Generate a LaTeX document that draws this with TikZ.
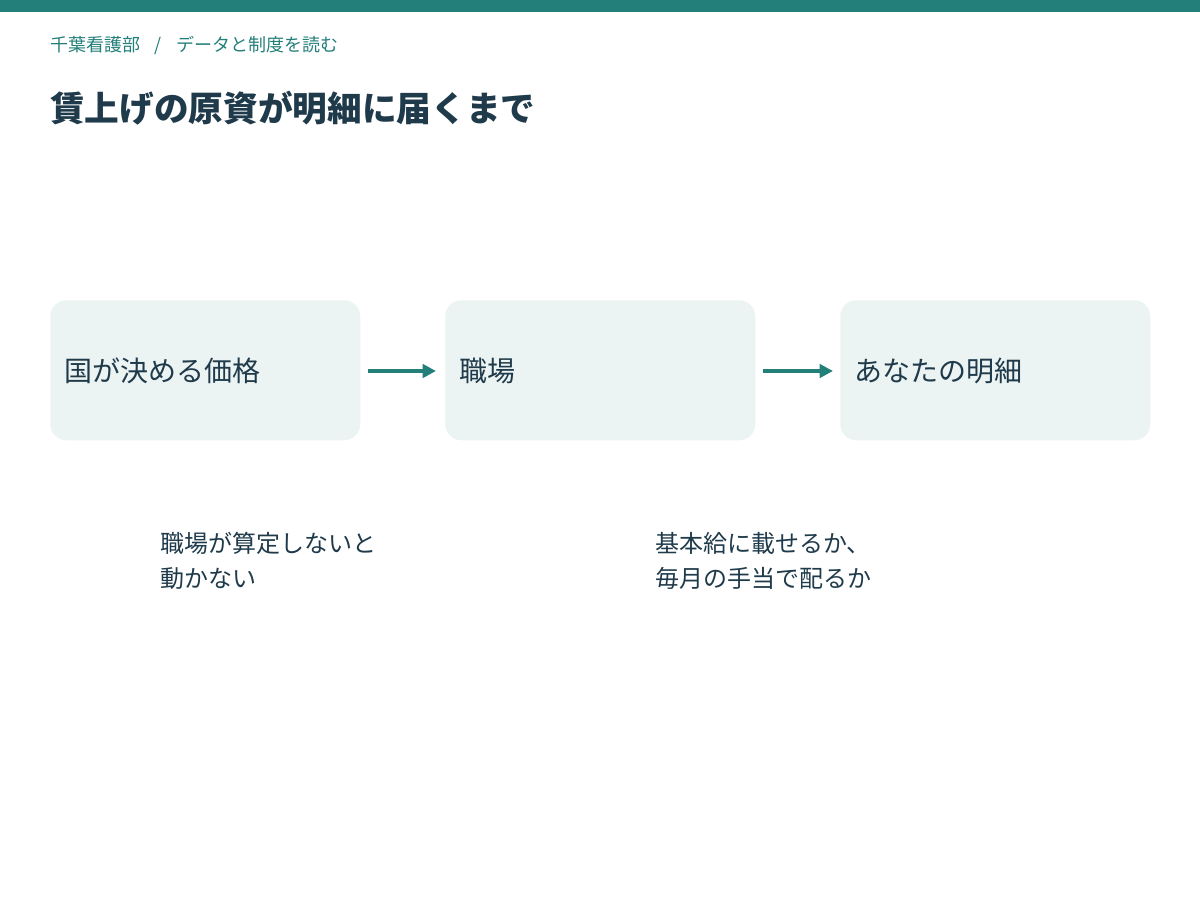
\documentclass[tikz,border=0pt]{standalone}
\usepackage{fontspec}
\setmainfont{Noto Sans CJK JP}
\usetikzlibrary{arrows.meta}
\definecolor{teal}{HTML}{237F7A}
\definecolor{ink}{HTML}{1F3A4A}
\definecolor{boxbg}{HTML}{ECF4F3}
\begin{document}
\begin{tikzpicture}[x=0.75pt,y=-0.75pt,
  box/.style={fill=boxbg,rounded corners=12pt,minimum width=232.5pt,minimum height=105pt,anchor=north west,inner sep=0},
  lbl/.style={anchor=west,text=ink,font=\fontsize{21}{25}\selectfont},
  note/.style={anchor=north west,text=ink,font=\fontsize{18}{26}\selectfont,align=left,inner sep=0},
  arr/.style={draw=teal,line width=2.5pt,-{Triangle[length=10pt,width=10pt]}}]
\useasboundingbox (0,0) rectangle (1200,900);
\fill[teal] (0,0) rectangle (1200,12);
\node[anchor=west,text=teal,font=\fontsize{13.5}{16}\selectfont,inner sep=0] (crumb) at (50,45) {千葉看護部\hspace{0.8em}/\hspace{0.8em}データと制度を読む};
\node[anchor=west,text=ink,font=\fontsize{26}{30}\selectfont\bfseries,inner sep=0] (title) at (50,108) {賃上げの原資が明細に届くまで};
\node[box] (b1) at (50,300) {};
\node[box] (b2) at (445,300) {};
\node[box] (b3) at (840,300) {};
\node[lbl] (t1) at (60,371) {国が決める価格};
\node[lbl] (t2) at (455,371) {職場};
\node[lbl] (t3) at (850,371) {あなたの明細};
\coordinate (a1s) at (368,371); \coordinate (a1e) at (436,371);
\coordinate (a2s) at (763,371); \coordinate (a2e) at (833,371);
\draw[arr] (a1s) -- (a1e);
\draw[arr] (a2s) -- (a2e);
\node[note] (n1) at (160,532) {職場が算定しないと\\動かない};
\node[note] (n2) at (655,532) {基本給に載せるか、\\毎月の手当で配るか};
\end{tikzpicture}
\end{document}
